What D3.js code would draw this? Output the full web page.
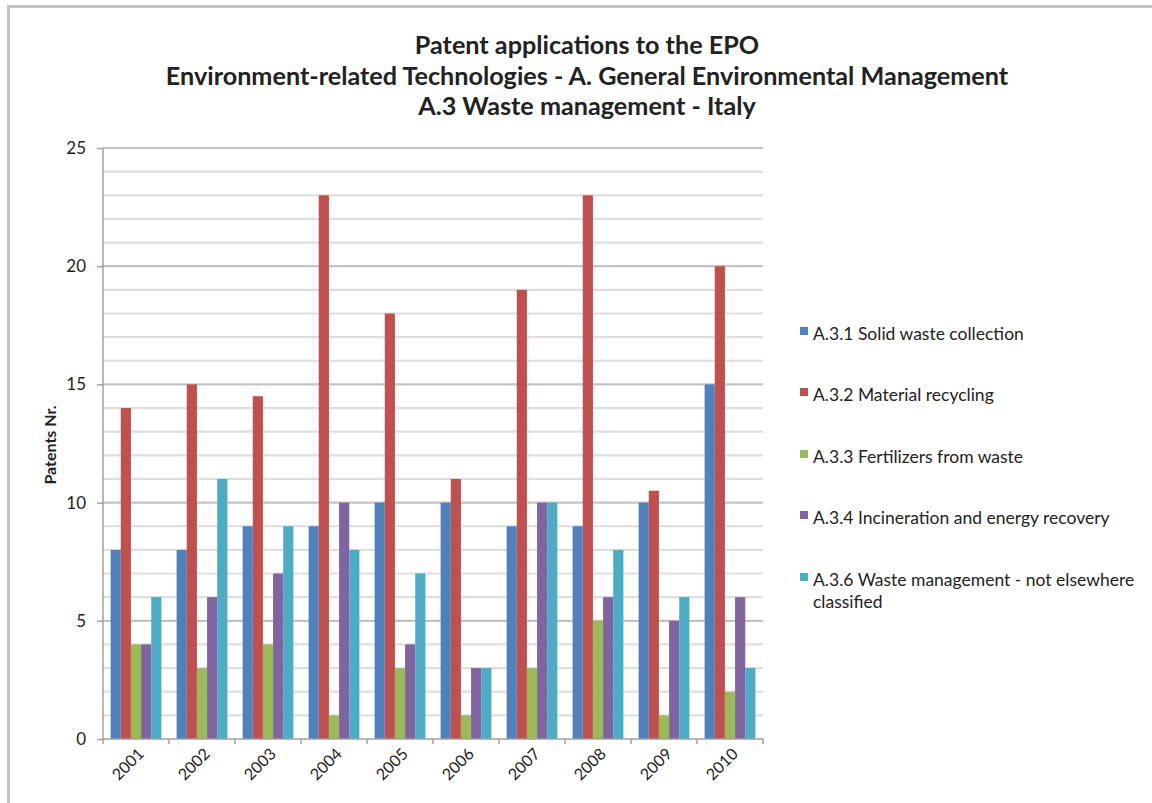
<!DOCTYPE html>
<html><head><meta charset="utf-8">
<script src="https://cdn.jsdelivr.net/npm/d3@7/dist/d3.min.js"></script>
<style>body{margin:0;background:#fff}svg{display:block}text{font-family:Lato,"Open Sans",sans-serif;fill:#222}</style>
</head><body><svg id="c" width="1152" height="803"></svg>
<script>
const years = ["2001","2002","2003","2004","2005","2006","2007","2008","2009","2010"];
const seriesNames = ["A.3.1 Solid waste collection","A.3.2 Material recycling","A.3.3 Fertilizers from waste","A.3.4 Incineration and energy recovery","A.3.6 Waste management - not elsewhere classified"];
const solidWaste   = [8, 8, 9, 9, 10, 10, 9, 9, 10, 15];
const recycling    = [14, 15, 14.5, 23, 18, 11, 19, 23, 10.5, 20];
const fertilizers  = [4, 3, 4, 1, 3, 1, 3, 5, 1, 2];
const incineration = [4, 6, 7, 10, 4, 3, 10, 6, 5, 6];
const wasteNec     = [6, 11, 9, 8, 7, 3, 10, 8, 6, 3];
const yTicks = [0, 5, 10, 15, 20, 25];
const colors = ["#4F81BD","#C0504D","#9BBB59","#8064A2","#4BACC6"];
const allSeries = [solidWaste, recycling, fertilizers, incineration, wasteNec];

const svg = d3.select("#c");
// frame
svg.append("line").attr("x1",8).attr("x2",1152).attr("y1",6.5).attr("y2",6.5).attr("stroke","#c3c3c3").attr("stroke-width",3);
svg.append("line").attr("x1",8.5).attr("x2",8.5).attr("y1",5).attr("y2",803).attr("stroke","#c3c3c3").attr("stroke-width",3);

const L=103, R=763, T=148, B=739;
const x = d3.scaleBand().domain(years).range([L,R]).paddingInner(0).paddingOuter(0);
const y = d3.scaleLinear().domain([0,25]).range([B,T]);
const bw = x.bandwidth()/6.5;
const x1 = d3.scaleBand().domain(d3.range(5)).range([bw*0.75, bw*5.75]);

// gridlines
const g = svg.append("g");
g.selectAll("line.grid").data(d3.range(1,26)).join("line")
  .attr("x1",L).attr("x2",R).attr("y1",d=>y(d)).attr("y2",d=>y(d))
  .attr("stroke",d=>d%5===0?"#c4c4c4":"#dedede").attr("stroke-width",2.2);

// bars
const groups = svg.append("g").selectAll("g").data(years).join("g")
  .attr("transform",d=>`translate(${x(d)},0)`);
groups.selectAll("rect").data((d,i)=>allSeries.map((s,k)=>({k,v:s[i]}))).join("rect")
  .attr("x",d=>x1(d.k)).attr("width",x1.bandwidth())
  .attr("y",d=>y(d.v)).attr("height",d=>B-y(d.v))
  .attr("fill",d=>colors[d.k]);

// y axis
const ya = svg.append("g").attr("transform",`translate(${L},0)`)
  .call(d3.axisLeft(y).tickValues(yTicks).tickSize(6).tickPadding(11));
ya.select(".domain").attr("stroke","#a0a0a0").attr("stroke-width",1.5).attr("d",`M0,${T}V${B}`);
ya.selectAll(".tick line").attr("stroke","#a0a0a0").attr("stroke-width",1.5);
ya.selectAll(".tick text").style("font-size","17px").attr("fill","#222");

// x axis
const xa = svg.append("g").attr("transform",`translate(0,${B})`)
  .call(d3.axisBottom(x).tickSize(0));
xa.select(".domain").attr("stroke","#a0a0a0").attr("stroke-width",1.5).attr("d",`M${L},0H${R}`);
xa.selectAll(".tick text").style("font-size","16px").attr("text-anchor","end")
  .attr("transform","translate(5,12) rotate(-45)").attr("dy","0.35em").attr("y",0).attr("fill","#222");
svg.append("g").selectAll("line").data(d3.range(years.length+1)).join("line")
  .attr("x1",i=>L+i*x.step()).attr("x2",i=>L+i*x.step()).attr("y1",B).attr("y2",B+5)
  .attr("stroke","#a0a0a0").attr("stroke-width",1.5);

// y label
svg.append("text").attr("transform","translate(50,445) rotate(-90)").attr("text-anchor","middle")
  .attr("dy","0.35em").style("font-size","16px").style("font-weight","bold").text("Patents Nr.");

// title
const titles = ["Patent applications to the EPO","Environment-related Technologies - A. General Environmental Management","A.3 Waste management - Italy"];
svg.append("g").selectAll("text").data(titles).join("text")
  .attr("x",587).attr("y",(d,i)=>54+i*30.5).attr("text-anchor","middle")
  .style("font-size","25.2px").style("font-weight","bold").text(d=>d);

// legend
const legY = [334, 395, 457, 518, 580];
const lg = svg.append("g").selectAll("g").data(seriesNames).join("g")
  .attr("transform",(d,i)=>`translate(800,${legY[i]})`);
lg.append("rect").attr("x",0).attr("y",-7).attr("width",8).attr("height",8).attr("fill",(d,i)=>colors[i]);
lg.append("text").attr("x",13).attr("y",0).attr("dy","0.32em").style("font-size","17.5px")
  .each(function(d){
    const t=d3.select(this);
    if(d.startsWith("A.3.6")){
      t.append("tspan").attr("x",13).text("A.3.6 Waste management - not elsewhere");
      t.append("tspan").attr("x",13).attr("dy","1.3em").text("classified");
    } else t.text(d);
  });
</script></body></html>
